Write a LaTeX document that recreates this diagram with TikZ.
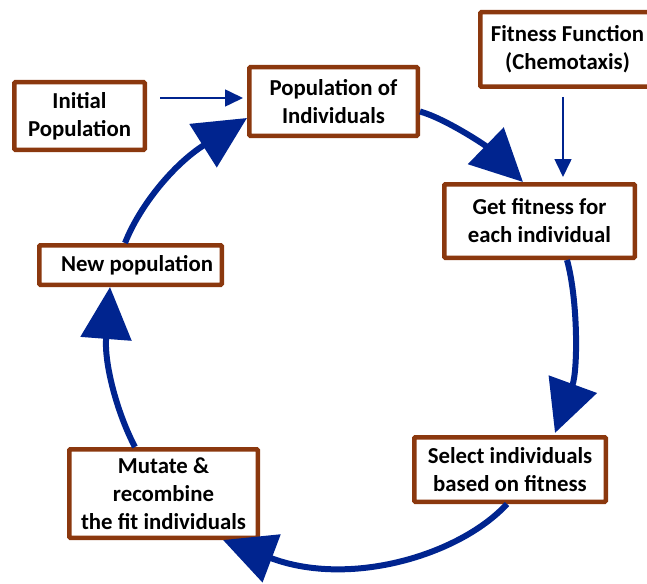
\documentclass[tikz,border=0pt]{standalone}
\usepackage{fontspec}
\setmainfont{Carlito}
\usetikzlibrary{arrows.meta,calc}
\definecolor{boxbrown}{RGB}{139,56,14}
\definecolor{navy}{RGB}{0,36,143}
\tikzset{
  box/.style={draw=boxbrown, line width=4.5pt, fill=white, inner sep=0pt,
    align=center, rounded corners=1pt,
    font=\fontsize{22.8}{28}\selectfont\bfseries},
  cycle/.style={draw=navy, line width=6pt,
    -{Triangle[length=52pt,width=50pt]}},
  feed/.style={draw=navy, line width=1.6pt,
    -{Triangle[length=18pt,width=17pt]}}
}
\begin{document}
\begin{tikzpicture}[x=1pt,y=-1pt]
\useasboundingbox (0,0) rectangle (647,583);
\clip (0,0) rectangle (647,583);
\node[box, minimum width=130.5pt, minimum height=67.5pt] (init) at (79.5,116) {Initial\\Population};
\node[box, minimum width=168.5pt, minimum height=68.5pt] (pop) at (333.5,101.5) {Population of\\Individuals};
\node[box, minimum width=174.5pt, minimum height=74.5pt] (fit) at (567.5,49.5) {Fitness Function\\(Chemotaxis)};
\node[box, minimum width=190.5pt, minimum height=73.5pt] (gf) at (539.5,221) {Get fitness for\\each individual};
\node[box, minimum width=191.5pt, minimum height=64.5pt] (sel) at (510,469.5) {Select individuals\\based on fitness};
\node[box, minimum width=188.5pt, minimum height=88.5pt] (mut) at (163.5,493.5) {Mutate \&\\recombine\\the fit individuals};
\node[box, minimum width=182.5pt, minimum height=39.5pt] (np) at (130.5,265) {\hspace*{13pt}New population};

\draw[cycle] ($(pop.east)+(0,10)$) .. controls +(25,7) and +(-38,-37) .. ($(gf.north)+(-16.5,0)$);
\draw[cycle] ($(gf.south)+(27.5,0)$) .. controls +(11,40) and +(23,-63) .. ($(sel.north)+(45,-2)$);
\draw[cycle] ($(sel.south)+(-3,0)$) .. controls +(-47,51) and +(127,48) .. ($(mut.south east)+(-37,0)$);
\draw[cycle] ($(mut.north)+(-28.5,0)$) .. controls +(-17,-32) and +(-6,78) .. ($(np.south)+(-20.5,0)$);
\draw[cycle] ($(np.north)+(-5.5,0)$) .. controls +(15,-38) and +(-73,46) .. ($(pop.west)+(0,16.5)$);

\coordinate (ta) at ($(pop.west)+(-4,-3.5)$);
\draw[feed] ($(ta)+(-83,0)$) -- (ta);
\draw[feed] ($(fit.south)+(-4.5,8)$) -- ($(gf.north)+(23.5,-5)$);
\end{tikzpicture}
\end{document}
